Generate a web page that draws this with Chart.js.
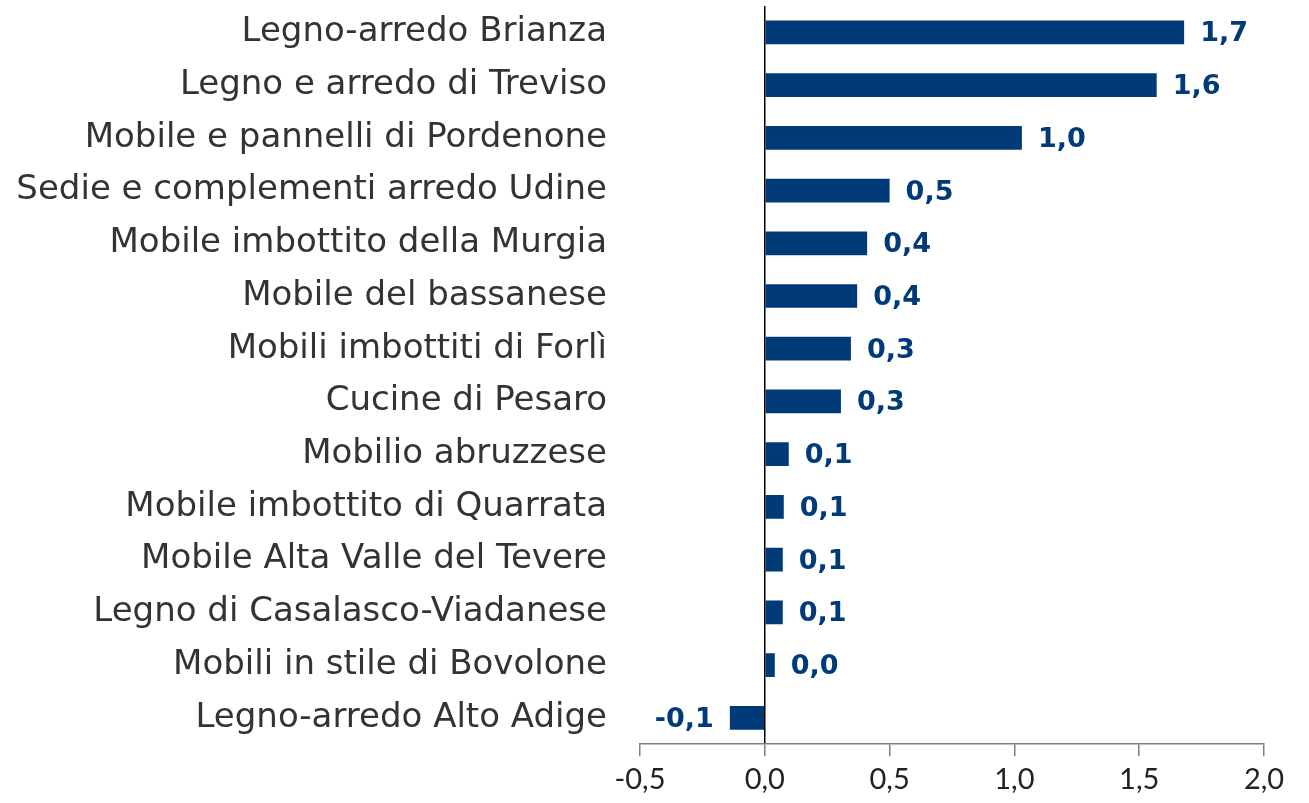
<!DOCTYPE html>
<html>
<head>
<meta charset="utf-8">
<script src="https://cdn.jsdelivr.net/npm/chart.js@4"></script>
<style>
  html, body { margin: 0; padding: 0; background: #fff; }
  #wrap { width: 1309px; height: 803px; position: relative; }
</style>
</head>
<body>
<div id="wrap"><canvas id="myChart"></canvas></div>
<script>
  const categories = [
    'Legno-arredo Brianza',
    'Legno e arredo di Treviso',
    'Mobile e pannelli di Pordenone',
    'Sedie e complementi arredo Udine',
    'Mobile imbottito della Murgia',
    'Mobile del bassanese',
    'Mobili imbottiti di Forlì',
    'Cucine di Pesaro',
    'Mobilio abruzzese',
    'Mobile imbottito di Quarrata',
    'Mobile Alta Valle del Tevere',
    'Legno di Casalasco-Viadanese',
    'Mobili in stile di Bovolone',
    'Legno-arredo Alto Adige'
  ];
  const values = [1.68, 1.57, 1.03, 0.50, 0.41, 0.37, 0.345, 0.305, 0.096, 0.076, 0.072, 0.072, 0.04, -0.14];
  const xTicks = [-0.5, 0, 0.5, 1.0, 1.5, 2.0];

  const labelFont = '"DejaVu Sans", sans-serif';
  const tickFont = 'Lato, "Open Sans", sans-serif';
  const fmt = v => v.toFixed(1).replace('.', ',');

  // value labels next to each bar
  const valueLabels = {
    id: 'valueLabels',
    afterDatasetsDraw(chart) {
      const c = chart.ctx;
      const meta = chart.getDatasetMeta(0);
      c.save();
      c.font = 'bold 27px ' + labelFont;
      c.fillStyle = '#003a78';
      c.textBaseline = 'middle';
      meta.data.forEach((bar, i) => {
        const v = values[i];
        if (v < 0) {
          c.textAlign = 'right';
          c.fillText(fmt(v), bar.x - 16, bar.y + 2);
        } else {
          c.textAlign = 'left';
          c.fillText(fmt(v), bar.x + 16, bar.y + 2);
        }
      });
      c.restore();
    }
  };

  const ctx = document.getElementById('myChart');
  new Chart(ctx, {
    type: 'bar',
    data: {
      labels: categories,
      datasets: [{
        data: values,
        backgroundColor: '#003a78',
        barPercentage: 0.9,
        categoryPercentage: 0.5
      }]
    },
    options: {
      indexAxis: 'y',
      responsive: true,
      maintainAspectRatio: false,
      animation: false,
      layout: { padding: { top: 6, right: 45, bottom: 0, left: 8 } },
      plugins: { legend: { display: false }, tooltip: { enabled: false } },
      scales: {
        x: {
          min: -0.5,
          max: 2.0,
          afterBuildTicks: scale => { scale.ticks = xTicks.map(v => ({ value: v })); },
          border: { color: '#7f7f7f', width: 1.5 },
          grid: {
            color: c => (c.tick && c.tick.value === 0) ? '#000' : 'transparent',
            lineWidth: 1.5,
            tickColor: '#7f7f7f',
            tickLength: 12
          },
          ticks: {
            color: '#222',
            font: { family: tickFont, size: 29 },
            padding: 6,
            callback: v => fmt(v)
          }
        },
        y: {
          afterFit: scale => {
            scale.width = 632;
            scale.paddingTop = 0;
            scale.paddingBottom = 0;
          },
          border: { display: false },
          grid: { display: false, drawTicks: false },
          ticks: {
            color: '#333',
            font: { family: labelFont, size: 34 },
            padding: 33
          }
        }
      }
    },
    plugins: [valueLabels]
  });
</script>
</body>
</html>
